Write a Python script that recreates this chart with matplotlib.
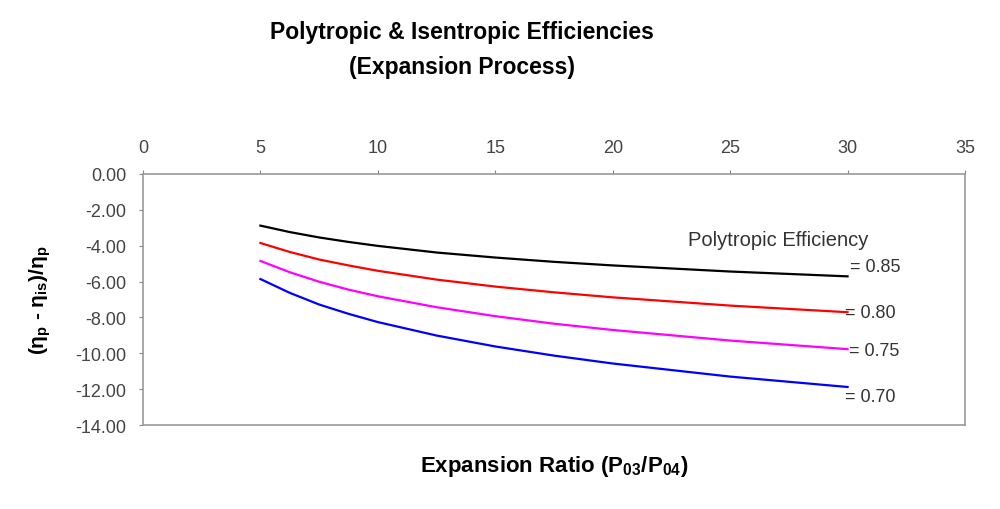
import matplotlib.pyplot as plt

plt.rcParams['font.family'] = ['Liberation Sans', 'DejaVu Sans']
plt.rcParams['mathtext.default'] = 'regular'

# pressure ratio P03/P04
ratio = [5, 6.25, 7.5, 8.75, 10, 12.5, 15, 17.5, 20, 25, 30]

# (eta_p - eta_is)/eta_p in %, one series per polytropic efficiency
dev_085 = [-2.88, -3.24, -3.54, -3.79, -4.01, -4.38, -4.66, -4.90, -5.10, -5.44, -5.71]
dev_080 = [-3.85, -4.35, -4.77, -5.10, -5.40, -5.89, -6.28, -6.60, -6.88, -7.34, -7.71]
dev_075 = [-4.85, -5.48, -6.01, -6.45, -6.82, -7.43, -7.93, -8.35, -8.70, -9.29, -9.77]
dev_070 = [-5.86, -6.63, -7.28, -7.80, -8.26, -9.01, -9.62, -10.13, -10.57, -11.30, -11.88]

labels = ['= 0.85', '= 0.80', '= 0.75', '= 0.70']
colors = ['black', '#ff0000', '#ff00ff', '#0000ff']
label_offsets = [(2, 7), (-2, 0), (1, -1), (-2, -7)]

fig = plt.figure(figsize=(10, 5.1), dpi=100)
ax = fig.add_axes([0.143, 0.1647, 0.822, 0.4922])

series = [dev_085, dev_080, dev_075, dev_070]
for vals, col, lab, off in zip(series, colors, labels, label_offsets):
    ax.plot(ratio, vals, color=col, lw=1.6, solid_joinstyle='round')
    ax.annotate(lab, xy=(ratio[-1], vals[-1]), xytext=off,
                textcoords='offset points', ha='left', va='center',
                fontsize=13, color='#333333')

ax.text(23.2, -3.63, 'Polytropic Efficiency', fontsize=14.5, color='#333333',
        ha='left', va='center')

ax.set_xlim(0, 35)
ax.set_ylim(-14, 0)
ax.set_xticks(range(0, 36, 5))
ax.set_yticks(range(-14, 1, 2))
ax.set_yticklabels([f'{v:.2f}' for v in range(-14, 1, 2)])
ax.xaxis.tick_top()
ax.tick_params(axis='both', labelsize=13, colors='#444444', length=3,
               color='#888888')
ax.tick_params(axis='x', pad=10)
ax.tick_params(axis='y', pad=9)
for sp in ax.spines.values():
    sp.set_color('#999999')
    sp.set_linewidth(1.2)

ax.set_xlabel('Expansion Ratio (P$_{03}$/P$_{04}$)', fontsize=16,
              fontweight='bold')
ax.xaxis.set_label_coords(0.5, -0.11)
ax.set_ylabel(r'($\eta_p$ - $\eta_{is}$)/$\eta_p$', fontsize=15,
              fontweight='bold')
ax.yaxis.set_label_coords(-0.11, 0.5)

fig.text(0.462, 0.937, 'Polytropic & Isentropic Efficiencies',
         ha='center', va='center', fontsize=16.5, fontweight='bold')
fig.text(0.462, 0.867, '(Expansion Process)',
         ha='center', va='center', fontsize=16.5, fontweight='bold')

fig.savefig('out.png')
